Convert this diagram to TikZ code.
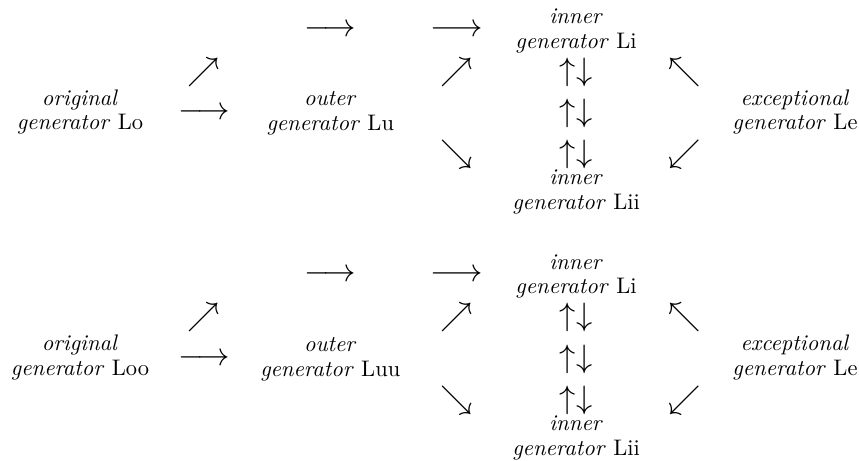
\documentclass[tikz,border=0pt]{standalone}
\usepackage{amsmath}
\usepackage{amssymb}
\usepackage{tikz}
\usetikzlibrary{positioning}
\tikzset{genny/.style={align=center,inner sep=0},
    arrowy/.style={inner sep=0,font=\Large}}

\begin{document}
\begin{tikzpicture}

\useasboundingbox (0,0) rectangle (13.42,-7.2);

% upper array
\node (orig 1)  [genny] at (1.25,-1.75)  {\textit{original}\\[-1pt]\textit{generator} Lo};
\node (outer 1) [genny] at (5.16,-1.77)  {\textit{outer}\\[-1pt]\textit{generator} Lu};
\node (inn 1)   [genny] at (9.0,-0.48)   {\textit{inner}\\[-1pt]\textit{generator} Li};
\node (innn 1)  [genny] at (9.0,-3.0)    {\textit{inner}\\[-1pt]\textit{generator} Lii};
\node (exc 1)   [genny] at (12.42,-1.75) {\textit{exceptional}\\[-1pt]\textit{generator} Le};

\node (ar 1 1) [arrowy] at (5.16,-0.47)  {$\longrightarrow$};
\node (ar 1 2) [arrowy] at (7.14,-0.47)  {$\longrightarrow$};
\node (ar 1 3) [arrowy] at (3.19,-1.125) {$\nearrow$};
\node (ar 1 4) [arrowy] at (3.19,-1.77)  {$\longrightarrow$};
\node (ar 1 5) [arrowy] at (7.14,-1.125) {$\nearrow$};
\node (ar 1 6) [arrowy] at (7.14,-2.42)  {$\searrow$};
\node (ar 1 7) [arrowy] at (10.70,-1.125) {$\nwarrow$};
\node (ar 1 8) [arrowy] at (10.70,-2.42) {$\swarrow$};
\node (ud 1 1) [arrowy] at (9.0,-1.125)  {$\uparrow\downarrow$};
\node (ud 1 2) [arrowy] at (9.0,-1.77)   {$\uparrow\downarrow$};
\node (ud 1 3) [arrowy] at (9.0,-2.42)   {$\uparrow\downarrow$};

% lower array
\node (orig 2)  [genny] at (1.25,-5.59)  {\textit{original}\\[-1pt]\textit{generator} Loo};
\node (outer 2) [genny] at (5.16,-5.61)  {\textit{outer}\\[-1pt]\textit{generator} Luu};
\node (inn 2)   [genny] at (9.0,-4.32)   {\textit{inner}\\[-1pt]\textit{generator} Li};
\node (innn 2)  [genny] at (9.0,-6.84)   {\textit{inner}\\[-1pt]\textit{generator} Lii};
\node (exc 2)   [genny] at (12.42,-5.59) {\textit{exceptional}\\[-1pt]\textit{generator} Le};

\node (ar 2 1) [arrowy] at (5.16,-4.31)  {$\longrightarrow$};
\node (ar 2 2) [arrowy] at (7.14,-4.31)  {$\longrightarrow$};
\node (ar 2 3) [arrowy] at (3.19,-4.965) {$\nearrow$};
\node (ar 2 4) [arrowy] at (3.19,-5.61)  {$\longrightarrow$};
\node (ar 2 5) [arrowy] at (7.14,-4.965) {$\nearrow$};
\node (ar 2 6) [arrowy] at (7.14,-6.26)  {$\searrow$};
\node (ar 2 7) [arrowy] at (10.70,-4.965) {$\nwarrow$};
\node (ar 2 8) [arrowy] at (10.70,-6.26) {$\swarrow$};
\node (ud 2 1) [arrowy] at (9.0,-4.965)  {$\uparrow\downarrow$};
\node (ud 2 2) [arrowy] at (9.0,-5.61)   {$\uparrow\downarrow$};
\node (ud 2 3) [arrowy] at (9.0,-6.26)   {$\uparrow\downarrow$};

\end{tikzpicture}
\end{document}
